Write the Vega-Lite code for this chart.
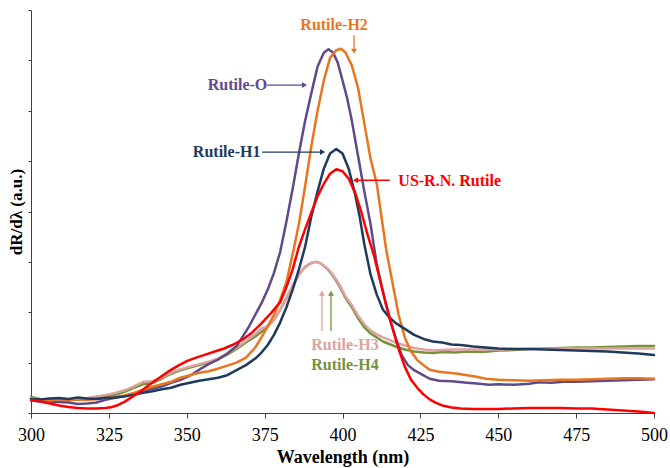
{
  "$schema": "https://vega.github.io/schema/vega-lite/v6.json",
  "width": 623,
  "height": 403,
  "autosize": "none",
  "padding": {"left": 31, "top": 10, "right": 16, "bottom": 55},
  "background": "white",
  "config": {"view": {"stroke": null}, "font": "Liberation Serif"},
  "datasets": {
    "curves": [
      {"s":"Rutile-H4","x":300,"y":0.32},{"s":"Rutile-H4","x":303,"y":0.28},{"s":"Rutile-H4","x":306,"y":0.26},{"s":"Rutile-H4","x":309,"y":0.27},{"s":"Rutile-H4","x":312,"y":0.25},{"s":"Rutile-H4","x":315,"y":0.28},{"s":"Rutile-H4","x":318,"y":0.27},{"s":"Rutile-H4","x":321,"y":0.3},{"s":"Rutile-H4","x":324,"y":0.33},{"s":"Rutile-H4","x":327,"y":0.36},{"s":"Rutile-H4","x":330,"y":0.42},{"s":"Rutile-H4","x":333,"y":0.5},{"s":"Rutile-H4","x":336,"y":0.57},{"s":"Rutile-H4","x":339,"y":0.6},{"s":"Rutile-H4","x":342,"y":0.68},{"s":"Rutile-H4","x":345,"y":0.78},{"s":"Rutile-H4","x":348,"y":0.85},{"s":"Rutile-H4","x":351,"y":0.9},{"s":"Rutile-H4","x":354,"y":0.95},{"s":"Rutile-H4","x":357,"y":1.0},{"s":"Rutile-H4","x":360,"y":1.07},{"s":"Rutile-H4","x":363,"y":1.16},{"s":"Rutile-H4","x":366,"y":1.27},{"s":"Rutile-H4","x":369,"y":1.4},{"s":"Rutile-H4","x":372,"y":1.52},{"s":"Rutile-H4","x":375,"y":1.66},{"s":"Rutile-H4","x":378,"y":1.85},{"s":"Rutile-H4","x":380,"y":2.05},{"s":"Rutile-H4","x":382,"y":2.28},{"s":"Rutile-H4","x":384,"y":2.52},{"s":"Rutile-H4","x":386,"y":2.75},{"s":"Rutile-H4","x":388,"y":2.9},{"s":"Rutile-H4","x":390,"y":2.98},{"s":"Rutile-H4","x":391.5,"y":3.0},{"s":"Rutile-H4","x":393,"y":2.97},{"s":"Rutile-H4","x":395,"y":2.87},{"s":"Rutile-H4","x":397,"y":2.72},{"s":"Rutile-H4","x":399,"y":2.52},{"s":"Rutile-H4","x":401,"y":2.28},{"s":"Rutile-H4","x":403,"y":2.1},{"s":"Rutile-H4","x":405,"y":1.88},{"s":"Rutile-H4","x":407,"y":1.7},{"s":"Rutile-H4","x":409,"y":1.58},{"s":"Rutile-H4","x":411,"y":1.5},{"s":"Rutile-H4","x":413,"y":1.42},{"s":"Rutile-H4","x":415,"y":1.37},{"s":"Rutile-H4","x":417,"y":1.32},{"s":"Rutile-H4","x":420,"y":1.26},{"s":"Rutile-H4","x":423,"y":1.22},{"s":"Rutile-H4","x":426,"y":1.2},{"s":"Rutile-H4","x":429,"y":1.19},{"s":"Rutile-H4","x":432,"y":1.21},{"s":"Rutile-H4","x":436,"y":1.2},{"s":"Rutile-H4","x":440,"y":1.22},{"s":"Rutile-H4","x":445,"y":1.21},{"s":"Rutile-H4","x":450,"y":1.24},{"s":"Rutile-H4","x":455,"y":1.25},{"s":"Rutile-H4","x":460,"y":1.27},{"s":"Rutile-H4","x":465,"y":1.28},{"s":"Rutile-H4","x":470,"y":1.29},{"s":"Rutile-H4","x":475,"y":1.3},{"s":"Rutile-H4","x":480,"y":1.3},{"s":"Rutile-H4","x":485,"y":1.31},{"s":"Rutile-H4","x":490,"y":1.32},{"s":"Rutile-H4","x":495,"y":1.33},{"s":"Rutile-H4","x":500,"y":1.33},

      {"s":"Rutile-H3","x":300,"y":0.3},{"s":"Rutile-H3","x":303,"y":0.27},{"s":"Rutile-H3","x":306,"y":0.25},{"s":"Rutile-H3","x":309,"y":0.26},{"s":"Rutile-H3","x":312,"y":0.26},{"s":"Rutile-H3","x":315,"y":0.28},{"s":"Rutile-H3","x":318,"y":0.3},{"s":"Rutile-H3","x":321,"y":0.33},{"s":"Rutile-H3","x":324,"y":0.36},{"s":"Rutile-H3","x":327,"y":0.4},{"s":"Rutile-H3","x":330,"y":0.45},{"s":"Rutile-H3","x":333,"y":0.53},{"s":"Rutile-H3","x":336,"y":0.62},{"s":"Rutile-H3","x":339,"y":0.63},{"s":"Rutile-H3","x":342,"y":0.7},{"s":"Rutile-H3","x":345,"y":0.8},{"s":"Rutile-H3","x":348,"y":0.87},{"s":"Rutile-H3","x":351,"y":0.92},{"s":"Rutile-H3","x":354,"y":0.97},{"s":"Rutile-H3","x":357,"y":1.02},{"s":"Rutile-H3","x":360,"y":1.08},{"s":"Rutile-H3","x":363,"y":1.18},{"s":"Rutile-H3","x":366,"y":1.3},{"s":"Rutile-H3","x":369,"y":1.43},{"s":"Rutile-H3","x":372,"y":1.57},{"s":"Rutile-H3","x":374,"y":1.68},{"s":"Rutile-H3","x":376,"y":1.72},{"s":"Rutile-H3","x":378,"y":1.85},{"s":"Rutile-H3","x":380,"y":2.05},{"s":"Rutile-H3","x":382,"y":2.28},{"s":"Rutile-H3","x":384,"y":2.52},{"s":"Rutile-H3","x":386,"y":2.75},{"s":"Rutile-H3","x":388,"y":2.9},{"s":"Rutile-H3","x":390,"y":2.98},{"s":"Rutile-H3","x":391.5,"y":3.0},{"s":"Rutile-H3","x":393,"y":2.97},{"s":"Rutile-H3","x":395,"y":2.88},{"s":"Rutile-H3","x":397,"y":2.74},{"s":"Rutile-H3","x":399,"y":2.55},{"s":"Rutile-H3","x":401,"y":2.31},{"s":"Rutile-H3","x":403,"y":2.14},{"s":"Rutile-H3","x":405,"y":1.93},{"s":"Rutile-H3","x":407,"y":1.76},{"s":"Rutile-H3","x":409,"y":1.64},{"s":"Rutile-H3","x":411,"y":1.56},{"s":"Rutile-H3","x":413,"y":1.5},{"s":"Rutile-H3","x":415,"y":1.45},{"s":"Rutile-H3","x":417,"y":1.4},{"s":"Rutile-H3","x":420,"y":1.34},{"s":"Rutile-H3","x":423,"y":1.29},{"s":"Rutile-H3","x":426,"y":1.26},{"s":"Rutile-H3","x":429,"y":1.24},{"s":"Rutile-H3","x":432,"y":1.25},{"s":"Rutile-H3","x":436,"y":1.26},{"s":"Rutile-H3","x":440,"y":1.26},{"s":"Rutile-H3","x":445,"y":1.26},{"s":"Rutile-H3","x":450,"y":1.26},{"s":"Rutile-H3","x":455,"y":1.27},{"s":"Rutile-H3","x":460,"y":1.27},{"s":"Rutile-H3","x":465,"y":1.27},{"s":"Rutile-H3","x":470,"y":1.28},{"s":"Rutile-H3","x":475,"y":1.28},{"s":"Rutile-H3","x":480,"y":1.28},{"s":"Rutile-H3","x":485,"y":1.28},{"s":"Rutile-H3","x":490,"y":1.28},{"s":"Rutile-H3","x":495,"y":1.28},{"s":"Rutile-H3","x":500,"y":1.28},

      {"s":"Rutile-O","x":300,"y":0.25},{"s":"Rutile-O","x":303,"y":0.23},{"s":"Rutile-O","x":306,"y":0.22},{"s":"Rutile-O","x":309,"y":0.22},{"s":"Rutile-O","x":312,"y":0.21},{"s":"Rutile-O","x":315,"y":0.18},{"s":"Rutile-O","x":318,"y":0.19},{"s":"Rutile-O","x":321,"y":0.21},{"s":"Rutile-O","x":324,"y":0.26},{"s":"Rutile-O","x":327,"y":0.3},{"s":"Rutile-O","x":330,"y":0.33},{"s":"Rutile-O","x":333,"y":0.38},{"s":"Rutile-O","x":336,"y":0.44},{"s":"Rutile-O","x":339,"y":0.48},{"s":"Rutile-O","x":342,"y":0.53},{"s":"Rutile-O","x":345,"y":0.6},{"s":"Rutile-O","x":348,"y":0.66},{"s":"Rutile-O","x":351,"y":0.74},{"s":"Rutile-O","x":354,"y":0.86},{"s":"Rutile-O","x":357,"y":0.97},{"s":"Rutile-O","x":360,"y":1.06},{"s":"Rutile-O","x":363,"y":1.18},{"s":"Rutile-O","x":366,"y":1.33},{"s":"Rutile-O","x":368,"y":1.52},{"s":"Rutile-O","x":370,"y":1.72},{"s":"Rutile-O","x":372,"y":1.95},{"s":"Rutile-O","x":374,"y":2.18},{"s":"Rutile-O","x":376,"y":2.45},{"s":"Rutile-O","x":378,"y":2.78},{"s":"Rutile-O","x":380,"y":3.2},{"s":"Rutile-O","x":382,"y":3.8},{"s":"Rutile-O","x":384,"y":4.45},{"s":"Rutile-O","x":386,"y":5.15},{"s":"Rutile-O","x":388,"y":5.8},{"s":"Rutile-O","x":390,"y":6.35},{"s":"Rutile-O","x":392,"y":6.88},{"s":"Rutile-O","x":394,"y":7.15},{"s":"Rutile-O","x":395.5,"y":7.22},{"s":"Rutile-O","x":397,"y":7.15},{"s":"Rutile-O","x":398.5,"y":6.95},{"s":"Rutile-O","x":400,"y":6.6},{"s":"Rutile-O","x":401.5,"y":6.25},{"s":"Rutile-O","x":403,"y":5.8},{"s":"Rutile-O","x":405,"y":5.1},{"s":"Rutile-O","x":407,"y":4.4},{"s":"Rutile-O","x":409,"y":3.75},{"s":"Rutile-O","x":411,"y":2.95},{"s":"Rutile-O","x":413,"y":2.4},{"s":"Rutile-O","x":415,"y":1.9},{"s":"Rutile-O","x":417,"y":1.5},{"s":"Rutile-O","x":419,"y":1.15},{"s":"Rutile-O","x":421,"y":0.95},{"s":"Rutile-O","x":423,"y":0.85},{"s":"Rutile-O","x":425,"y":0.78},{"s":"Rutile-O","x":428,"y":0.68},{"s":"Rutile-O","x":431,"y":0.64},{"s":"Rutile-O","x":435,"y":0.63},{"s":"Rutile-O","x":440,"y":0.6},{"s":"Rutile-O","x":444,"y":0.58},{"s":"Rutile-O","x":447,"y":0.56},{"s":"Rutile-O","x":450,"y":0.57},{"s":"Rutile-O","x":455,"y":0.56},{"s":"Rutile-O","x":460,"y":0.58},{"s":"Rutile-O","x":463,"y":0.61},{"s":"Rutile-O","x":467,"y":0.6},{"s":"Rutile-O","x":471,"y":0.62},{"s":"Rutile-O","x":475,"y":0.62},{"s":"Rutile-O","x":480,"y":0.63},{"s":"Rutile-O","x":485,"y":0.64},{"s":"Rutile-O","x":490,"y":0.65},{"s":"Rutile-O","x":495,"y":0.66},{"s":"Rutile-O","x":500,"y":0.67},

      {"s":"Rutile-H2","x":300,"y":0.28},{"s":"Rutile-H2","x":303,"y":0.27},{"s":"Rutile-H2","x":306,"y":0.25},{"s":"Rutile-H2","x":309,"y":0.28},{"s":"Rutile-H2","x":312,"y":0.26},{"s":"Rutile-H2","x":315,"y":0.27},{"s":"Rutile-H2","x":318,"y":0.26},{"s":"Rutile-H2","x":321,"y":0.28},{"s":"Rutile-H2","x":324,"y":0.3},{"s":"Rutile-H2","x":327,"y":0.32},{"s":"Rutile-H2","x":330,"y":0.35},{"s":"Rutile-H2","x":333,"y":0.4},{"s":"Rutile-H2","x":336,"y":0.46},{"s":"Rutile-H2","x":339,"y":0.52},{"s":"Rutile-H2","x":342,"y":0.57},{"s":"Rutile-H2","x":345,"y":0.62},{"s":"Rutile-H2","x":348,"y":0.7},{"s":"Rutile-H2","x":351,"y":0.75},{"s":"Rutile-H2","x":354,"y":0.8},{"s":"Rutile-H2","x":357,"y":0.83},{"s":"Rutile-H2","x":360,"y":0.88},{"s":"Rutile-H2","x":363,"y":0.94},{"s":"Rutile-H2","x":366,"y":1.0},{"s":"Rutile-H2","x":369,"y":1.1},{"s":"Rutile-H2","x":372,"y":1.3},{"s":"Rutile-H2","x":374,"y":1.5},{"s":"Rutile-H2","x":376,"y":1.72},{"s":"Rutile-H2","x":378,"y":1.95},{"s":"Rutile-H2","x":380,"y":2.25},{"s":"Rutile-H2","x":382,"y":2.6},{"s":"Rutile-H2","x":384,"y":3.15},{"s":"Rutile-H2","x":386,"y":3.75},{"s":"Rutile-H2","x":388,"y":4.5},{"s":"Rutile-H2","x":390,"y":5.3},{"s":"Rutile-H2","x":392,"y":6.0},{"s":"Rutile-H2","x":394,"y":6.6},{"s":"Rutile-H2","x":396,"y":7.05},{"s":"Rutile-H2","x":398,"y":7.2},{"s":"Rutile-H2","x":399.5,"y":7.23},{"s":"Rutile-H2","x":401,"y":7.15},{"s":"Rutile-H2","x":403,"y":6.9},{"s":"Rutile-H2","x":405,"y":6.45},{"s":"Rutile-H2","x":407,"y":5.75},{"s":"Rutile-H2","x":409,"y":5.05},{"s":"Rutile-H2","x":411,"y":4.55},{"s":"Rutile-H2","x":412.5,"y":3.9},{"s":"Rutile-H2","x":414,"y":3.25},{"s":"Rutile-H2","x":416,"y":2.6},{"s":"Rutile-H2","x":418,"y":1.95},{"s":"Rutile-H2","x":420,"y":1.5},{"s":"Rutile-H2","x":422,"y":1.22},{"s":"Rutile-H2","x":424,"y":1.05},{"s":"Rutile-H2","x":426,"y":0.95},{"s":"Rutile-H2","x":428,"y":0.86},{"s":"Rutile-H2","x":431,"y":0.82},{"s":"Rutile-H2","x":434,"y":0.8},{"s":"Rutile-H2","x":437,"y":0.78},{"s":"Rutile-H2","x":440,"y":0.75},{"s":"Rutile-H2","x":443,"y":0.72},{"s":"Rutile-H2","x":446,"y":0.68},{"s":"Rutile-H2","x":450,"y":0.66},{"s":"Rutile-H2","x":455,"y":0.65},{"s":"Rutile-H2","x":460,"y":0.64},{"s":"Rutile-H2","x":465,"y":0.65},{"s":"Rutile-H2","x":470,"y":0.66},{"s":"Rutile-H2","x":475,"y":0.66},{"s":"Rutile-H2","x":480,"y":0.67},{"s":"Rutile-H2","x":485,"y":0.68},{"s":"Rutile-H2","x":490,"y":0.69},{"s":"Rutile-H2","x":495,"y":0.69},{"s":"Rutile-H2","x":500,"y":0.68},

      {"s":"Rutile-H1","x":300,"y":0.28},{"s":"Rutile-H1","x":303,"y":0.27},{"s":"Rutile-H1","x":306,"y":0.29},{"s":"Rutile-H1","x":309,"y":0.3},{"s":"Rutile-H1","x":312,"y":0.28},{"s":"Rutile-H1","x":315,"y":0.31},{"s":"Rutile-H1","x":318,"y":0.29},{"s":"Rutile-H1","x":321,"y":0.28},{"s":"Rutile-H1","x":324,"y":0.3},{"s":"Rutile-H1","x":327,"y":0.31},{"s":"Rutile-H1","x":330,"y":0.33},{"s":"Rutile-H1","x":333,"y":0.36},{"s":"Rutile-H1","x":336,"y":0.4},{"s":"Rutile-H1","x":339,"y":0.43},{"s":"Rutile-H1","x":342,"y":0.47},{"s":"Rutile-H1","x":345,"y":0.5},{"s":"Rutile-H1","x":348,"y":0.56},{"s":"Rutile-H1","x":351,"y":0.6},{"s":"Rutile-H1","x":354,"y":0.64},{"s":"Rutile-H1","x":357,"y":0.67},{"s":"Rutile-H1","x":360,"y":0.7},{"s":"Rutile-H1","x":363,"y":0.75},{"s":"Rutile-H1","x":366,"y":0.85},{"s":"Rutile-H1","x":369,"y":0.95},{"s":"Rutile-H1","x":372,"y":1.08},{"s":"Rutile-H1","x":374,"y":1.2},{"s":"Rutile-H1","x":376,"y":1.35},{"s":"Rutile-H1","x":378,"y":1.55},{"s":"Rutile-H1","x":380,"y":1.8},{"s":"Rutile-H1","x":382,"y":2.1},{"s":"Rutile-H1","x":384,"y":2.45},{"s":"Rutile-H1","x":386,"y":2.85},{"s":"Rutile-H1","x":388,"y":3.3},{"s":"Rutile-H1","x":390,"y":3.9},{"s":"Rutile-H1","x":392,"y":4.4},{"s":"Rutile-H1","x":394,"y":4.85},{"s":"Rutile-H1","x":396,"y":5.15},{"s":"Rutile-H1","x":398,"y":5.24},{"s":"Rutile-H1","x":400,"y":5.15},{"s":"Rutile-H1","x":402,"y":4.85},{"s":"Rutile-H1","x":404,"y":4.35},{"s":"Rutile-H1","x":405.5,"y":3.9},{"s":"Rutile-H1","x":407,"y":3.35},{"s":"Rutile-H1","x":409,"y":2.75},{"s":"Rutile-H1","x":411,"y":2.35},{"s":"Rutile-H1","x":413,"y":2.05},{"s":"Rutile-H1","x":415,"y":1.9},{"s":"Rutile-H1","x":417,"y":1.79},{"s":"Rutile-H1","x":420,"y":1.67},{"s":"Rutile-H1","x":423,"y":1.55},{"s":"Rutile-H1","x":426,"y":1.47},{"s":"Rutile-H1","x":429,"y":1.42},{"s":"Rutile-H1","x":432,"y":1.4},{"s":"Rutile-H1","x":435,"y":1.36},{"s":"Rutile-H1","x":438,"y":1.35},{"s":"Rutile-H1","x":442,"y":1.32},{"s":"Rutile-H1","x":446,"y":1.3},{"s":"Rutile-H1","x":450,"y":1.28},{"s":"Rutile-H1","x":455,"y":1.27},{"s":"Rutile-H1","x":460,"y":1.27},{"s":"Rutile-H1","x":465,"y":1.26},{"s":"Rutile-H1","x":470,"y":1.25},{"s":"Rutile-H1","x":475,"y":1.24},{"s":"Rutile-H1","x":480,"y":1.23},{"s":"Rutile-H1","x":485,"y":1.22},{"s":"Rutile-H1","x":490,"y":1.2},{"s":"Rutile-H1","x":495,"y":1.18},{"s":"Rutile-H1","x":500,"y":1.15},

      {"s":"US-R.N. Rutile","x":300,"y":0.26},{"s":"US-R.N. Rutile","x":303,"y":0.23},{"s":"US-R.N. Rutile","x":306,"y":0.19},{"s":"US-R.N. Rutile","x":309,"y":0.15},{"s":"US-R.N. Rutile","x":312,"y":0.12},{"s":"US-R.N. Rutile","x":315,"y":0.1},{"s":"US-R.N. Rutile","x":318,"y":0.09},{"s":"US-R.N. Rutile","x":321,"y":0.09},{"s":"US-R.N. Rutile","x":324,"y":0.1},{"s":"US-R.N. Rutile","x":326,"y":0.12},{"s":"US-R.N. Rutile","x":328,"y":0.16},{"s":"US-R.N. Rutile","x":330,"y":0.22},{"s":"US-R.N. Rutile","x":332,"y":0.3},{"s":"US-R.N. Rutile","x":335,"y":0.42},{"s":"US-R.N. Rutile","x":338,"y":0.56},{"s":"US-R.N. Rutile","x":341,"y":0.69},{"s":"US-R.N. Rutile","x":344,"y":0.82},{"s":"US-R.N. Rutile","x":347,"y":0.93},{"s":"US-R.N. Rutile","x":350,"y":1.03},{"s":"US-R.N. Rutile","x":353,"y":1.1},{"s":"US-R.N. Rutile","x":356,"y":1.16},{"s":"US-R.N. Rutile","x":359,"y":1.22},{"s":"US-R.N. Rutile","x":362,"y":1.28},{"s":"US-R.N. Rutile","x":365,"y":1.36},{"s":"US-R.N. Rutile","x":368,"y":1.46},{"s":"US-R.N. Rutile","x":371,"y":1.6},{"s":"US-R.N. Rutile","x":374,"y":1.78},{"s":"US-R.N. Rutile","x":377,"y":1.98},{"s":"US-R.N. Rutile","x":380,"y":2.2},{"s":"US-R.N. Rutile","x":382,"y":2.5},{"s":"US-R.N. Rutile","x":384,"y":2.85},{"s":"US-R.N. Rutile","x":386,"y":3.3},{"s":"US-R.N. Rutile","x":388,"y":3.65},{"s":"US-R.N. Rutile","x":390,"y":3.98},{"s":"US-R.N. Rutile","x":392,"y":4.3},{"s":"US-R.N. Rutile","x":394,"y":4.55},{"s":"US-R.N. Rutile","x":396,"y":4.75},{"s":"US-R.N. Rutile","x":398,"y":4.84},{"s":"US-R.N. Rutile","x":400,"y":4.8},{"s":"US-R.N. Rutile","x":402,"y":4.65},{"s":"US-R.N. Rutile","x":404,"y":4.38},{"s":"US-R.N. Rutile","x":406,"y":4.0},{"s":"US-R.N. Rutile","x":408,"y":3.55},{"s":"US-R.N. Rutile","x":410,"y":3.15},{"s":"US-R.N. Rutile","x":412,"y":2.65},{"s":"US-R.N. Rutile","x":414,"y":2.15},{"s":"US-R.N. Rutile","x":416,"y":1.7},{"s":"US-R.N. Rutile","x":418,"y":1.27},{"s":"US-R.N. Rutile","x":420,"y":0.92},{"s":"US-R.N. Rutile","x":422,"y":0.66},{"s":"US-R.N. Rutile","x":424,"y":0.5},{"s":"US-R.N. Rutile","x":426,"y":0.37},{"s":"US-R.N. Rutile","x":428,"y":0.27},{"s":"US-R.N. Rutile","x":430,"y":0.2},{"s":"US-R.N. Rutile","x":432,"y":0.15},{"s":"US-R.N. Rutile","x":435,"y":0.11},{"s":"US-R.N. Rutile","x":438,"y":0.09},{"s":"US-R.N. Rutile","x":442,"y":0.08},{"s":"US-R.N. Rutile","x":446,"y":0.08},{"s":"US-R.N. Rutile","x":450,"y":0.08},{"s":"US-R.N. Rutile","x":455,"y":0.09},{"s":"US-R.N. Rutile","x":460,"y":0.1},{"s":"US-R.N. Rutile","x":465,"y":0.1},{"s":"US-R.N. Rutile","x":470,"y":0.1},{"s":"US-R.N. Rutile","x":475,"y":0.09},{"s":"US-R.N. Rutile","x":480,"y":0.09},{"s":"US-R.N. Rutile","x":485,"y":0.07},{"s":"US-R.N. Rutile","x":490,"y":0.05},{"s":"US-R.N. Rutile","x":495,"y":0.03},{"s":"US-R.N. Rutile","x":500,"y":0.0}
    ],
    "arrows": [
      {"s":"Rutile-H2","x":403.7,"x2":403.7,"y":7.5,"y2":7.2},
      {"s":"Rutile-O","x":375.8,"x2":387.5,"y":6.51,"y2":6.51},
      {"s":"Rutile-H1","x":374.2,"x2":393.3,"y":5.18,"y2":5.18},
      {"s":"US-R.N. Rutile","x":415.2,"x2":404.5,"y":4.62,"y2":4.62},
      {"s":"Rutile-H3","x":393.4,"x2":393.4,"y":1.63,"y2":2.35},
      {"s":"Rutile-H4","x":396.3,"x2":396.3,"y":1.63,"y2":2.35}
    ],
    "heads": [
      {"s":"Rutile-H2","x":403.7,"y":7.18,"dir":"down"},
      {"s":"Rutile-O","x":387.8,"y":6.51,"dir":"right"},
      {"s":"Rutile-H1","x":393.6,"y":5.18,"dir":"right"},
      {"s":"US-R.N. Rutile","x":404.2,"y":4.62,"dir":"left"},
      {"s":"Rutile-H3","x":393.4,"y":2.38,"dir":"up"},
      {"s":"Rutile-H4","x":396.3,"y":2.38,"dir":"up"}
    ],
    "labels": [
      {"s":"Rutile-H2","x":397.3,"y":7.7},
      {"s":"Rutile-O","x":366.3,"y":6.51},
      {"s":"Rutile-H1","x":362.8,"y":5.18},
      {"s":"US-R.N. Rutile","x":434.4,"y":4.6},
      {"s":"Rutile-H3","x":400.8,"y":1.34},
      {"s":"Rutile-H4","x":400.8,"y":0.96}
    ]
  },
  "layer": [
    {
      "data": {"name": "curves"},
      "mark": {"type": "line", "strokeWidth": 2.5, "strokeJoin": "round", "strokeCap": "round"},
      "encoding": {
        "x": {"field": "x", "type": "quantitative",
          "scale": {"domain": [300, 500], "nice": false, "zero": false},
          "axis": {
            "title": "Wavelength (nm)",
            "values": [300, 312.5, 325, 337.5, 350, 362.5, 375, 387.5, 400, 412.5, 425, 437.5, 450, 462.5, 475, 487.5, 500],
            "labelExpr": "datum.value % 25 === 0 ? datum.label : ''",
            "grid": false, "domainColor": "#404040", "tickColor": "#404040", "tickSize": 5,
            "labelFont": "Liberation Serif", "labelFontSize": 18, "labelColor": "#000000", "labelPadding": 8,
            "labelOverlap": false, "labelFlush": false,
            "titleFont": "Liberation Serif", "titleFontSize": 18, "titleFontWeight": "bold", "titleColor": "#000000", "titlePadding": 4
          }
        },
        "y": {"field": "y", "type": "quantitative",
          "scale": {"domain": [0, 8], "nice": false, "zero": false},
          "axis": {
            "title": "dR/dλ (a.u.)",
            "values": [0, 1, 2, 3, 4, 5, 6, 7, 8],
            "labels": false, "grid": false, "domainColor": "#404040", "tickColor": "#404040", "tickSize": 3,
            "titleFont": "Liberation Serif", "titleFontSize": 17, "titleFontWeight": "bold", "titleColor": "#000000", "titlePadding": 2
          }
        },
        "color": {"field": "s", "type": "nominal", "legend": null,
          "scale": {"domain": ["Rutile-H4", "Rutile-H3", "Rutile-O", "Rutile-H2", "Rutile-H1", "US-R.N. Rutile"],
                    "range": ["#76923C", "#DDA3A0", "#604A8A", "#E8761E", "#1F3A5F", "#FF0000"]}}
      }
    },
    {
      "data": {"name": "arrows"},
      "mark": {"type": "rule", "strokeWidth": 1.3},
      "encoding": {
        "x": {"field": "x", "type": "quantitative"},
        "x2": {"field": "x2"},
        "y": {"field": "y", "type": "quantitative"},
        "y2": {"field": "y2"},
        "color": {"field": "s", "type": "nominal", "legend": null}
      }
    },
    {
      "data": {"name": "heads"},
      "mark": {"type": "point", "filled": true, "opacity": 1, "size": 35},
      "encoding": {
        "x": {"field": "x", "type": "quantitative"},
        "y": {"field": "y", "type": "quantitative"},
        "shape": {"field": "dir", "type": "nominal", "legend": null,
          "scale": {"domain": ["down", "right", "left", "up"], "range": ["triangle-down", "triangle-right", "triangle-left", "triangle-up"]}},
        "color": {"field": "s", "type": "nominal", "legend": null}
      }
    },
    {
      "data": {"name": "labels"},
      "mark": {"type": "text", "font": "Liberation Serif", "fontSize": 16, "fontWeight": "bold", "align": "center", "baseline": "middle"},
      "encoding": {
        "x": {"field": "x", "type": "quantitative"},
        "y": {"field": "y", "type": "quantitative"},
        "text": {"field": "s"},
        "color": {"field": "s", "type": "nominal", "legend": null}
      }
    }
  ]
}
